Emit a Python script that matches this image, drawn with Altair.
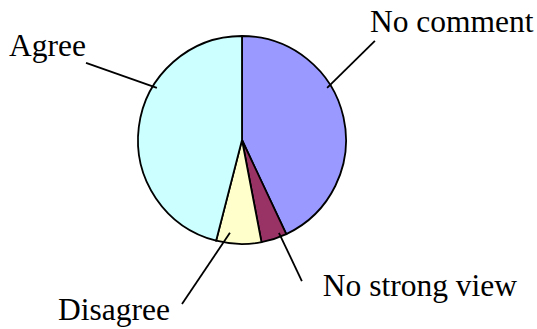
import altair as alt
import numpy as np
import pandas as pd

# Survey responses (percent of respondents), clockwise from 12 o'clock
categories = ["No comment", "No strong view", "Disagree", "Agree"]
shares = [43, 4, 7, 46]
colors = ["#9999FF", "#993366", "#FFFFCC", "#CCFFFF"]

# Layout: pie centre and radius in pixels, canvas size
W, H = 537, 329
CX, CY, R = 242, 140, 104

# Leader lines as polar pairs (degrees clockwise from top, radius in pie radii)
leader_inner = [(58.5, 0.96), (158.3, 0.96), (187.4, 0.90), (301.5, 0.96)]
leader_outer = [(53.3, 1.594), (157.0, 1.473), (200.1, 1.679), (296.3, 1.673)]
# Label anchor offsets from the outer leader end (pixels), and alignment
label_offset = [(-5, -9), (21, 15), (-12, 16), (0, -7)]
label_align = ["left", "left", "right", "right"]


def polar(angle_deg, r):
    a = np.radians(angle_deg)
    return r * np.sin(a), r * np.cos(a)


pie_df = pd.DataFrame({
    "category": categories,
    "share": shares,
    "order": list(range(len(categories))),
})

rows = []
for cat, (ai, ri), (ao, ro), (dx, dy), al in zip(
        categories, leader_inner, leader_outer, label_offset, label_align):
    x1, y1 = polar(ai, ri)
    x2, y2 = polar(ao, ro)
    rows.append({
        "category": cat, "x1": x1, "y1": y1, "x2": x2, "y2": y2,
        "lx": x2 + dx / R, "ly": y2 - dy / R, "align": al,
    })
lead_df = pd.DataFrame(rows)

xs = alt.Scale(domain=[-CX / R, (W - CX) / R], range=[0, W], nice=False, zero=False)
ys = alt.Scale(domain=[-(H - CY) / R, CY / R], range=[H, 0], nice=False, zero=False)

pie = alt.Chart(pie_df).mark_arc(
    outerRadius=R, stroke="black", strokeWidth=1.8
).encode(
    theta=alt.Theta("share:Q", stack=True),
    order=alt.Order("order:Q"),
    color=alt.Color("category:N", scale=alt.Scale(domain=categories, range=colors), legend=None),
    x=alt.datum(0, type="quantitative", scale=xs, axis=None),
    y=alt.datum(0, type="quantitative", scale=ys, axis=None),
)

leaders = alt.Chart(lead_df).mark_rule(color="black", strokeWidth=1.8).encode(
    x=alt.X("x1:Q", scale=xs, axis=None),
    y=alt.Y("y1:Q", scale=ys, axis=None),
    x2="x2:Q",
    y2="y2:Q",
)

text_style = dict(
    font="'Times New Roman', 'Liberation Serif', serif",
    fontSize=31.5, baseline="alphabetic", color="black",
)

labels_left = alt.Chart(lead_df).transform_filter(
    alt.datum.align == "left"
).mark_text(align="left", **text_style).encode(
    x=alt.X("lx:Q", scale=xs, axis=None),
    y=alt.Y("ly:Q", scale=ys, axis=None),
    text="category:N",
)

labels_right = alt.Chart(lead_df).transform_filter(
    alt.datum.align == "right"
).mark_text(align="right", **text_style).encode(
    x=alt.X("lx:Q", scale=xs, axis=None),
    y=alt.Y("ly:Q", scale=ys, axis=None),
    text="category:N",
)

chart = alt.layer(pie, leaders, labels_left, labels_right).properties(
    width=W, height=H, padding=0, autosize=alt.AutoSizeParams(type="none"),
    background="white",
).configure_view(stroke=None)

chart.save("out.html", embed_options={"renderer": "svg", "actions": False})
